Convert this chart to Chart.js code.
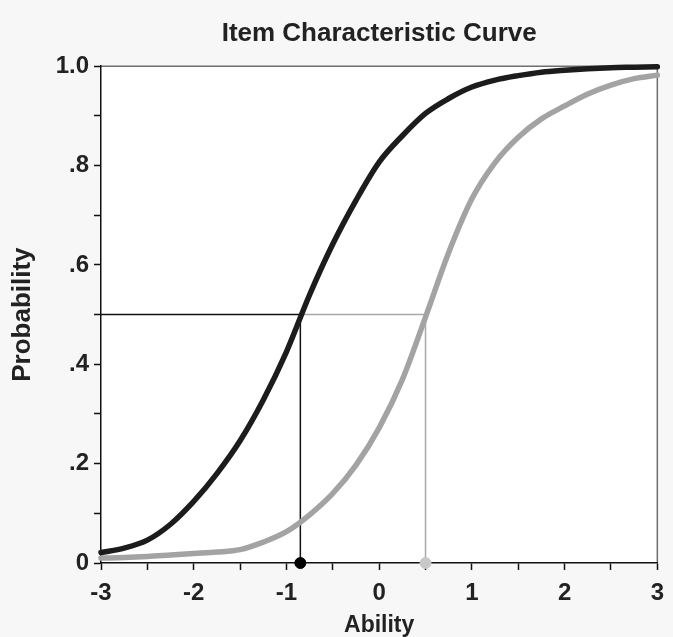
<!DOCTYPE html>
<html>
<head>
<meta charset="utf-8">
<script src="https://cdn.jsdelivr.net/npm/chart.js@4"></script>
<style>
  html, body { margin: 0; padding: 0; background: #f7f7f7; }
  #wrap { width: 673px; height: 637px; }
</style>
</head>
<body>
<div id="wrap"><canvas id="iccChart" width="673" height="637"></canvas></div>
<script>
// values
const abilityPoints = [-3, -2.75, -2.5, -2.25, -2, -1.75, -1.5, -1.25, -1, -0.75, -0.5, -0.25, 0, 0.25, 0.5, 0.75, 1, 1.25, 1.5, 1.75, 2, 2.25, 2.5, 2.75, 3];
const easyItem = [0.021, 0.03, 0.046, 0.078, 0.124, 0.18, 0.246, 0.328, 0.425, 0.54, 0.642, 0.73, 0.807, 0.86, 0.905, 0.935, 0.958, 0.972, 0.981, 0.988, 0.992, 0.995, 0.997, 0.998, 0.999];
const hardItem = [0.01, 0.011, 0.013, 0.016, 0.019, 0.022, 0.027, 0.042, 0.063, 0.097, 0.14, 0.197, 0.272, 0.369, 0.495, 0.625, 0.733, 0.806, 0.857, 0.894, 0.92, 0.944, 0.962, 0.975, 0.982];

// difficulty (ability where p = .5)
const difficulties = [-0.85, 0.5];
const halfProb = 0.5;

const xTickValues = [-3, -2, -1, 0, 1, 2, 3];
const xTickLabels = ['-3', '-2', '-1', '0', '1', '2', '3'];
const yTickValues = [0, 0.2, 0.4, 0.6, 0.8, 1.0];
const yTickLabels = ['0', '.2', '.4', '.6', '.8', '1.0'];

const fontFamily = "'Liberation Sans', Arial, sans-serif";

function pickLabel(value, values, labels) {
    for (let i = 0; i < values.length; i++) {
        if (Math.abs(values[i] - value) < 1e-6) return labels[i];
    }
    return '';
}

const plotBackground = {
    id: 'plotBackground',
    beforeDraw(chart) {
        const {ctx, chartArea} = chart;
        ctx.save();
        ctx.fillStyle = '#ffffff';
        ctx.fillRect(chartArea.left, chartArea.top, chartArea.right - chartArea.left, chartArea.bottom - chartArea.top);
        // top and right frame
        ctx.strokeStyle = '#6e6e6e';
        ctx.lineWidth = 1.5;
        ctx.beginPath();
        ctx.moveTo(chartArea.left, chartArea.top);
        ctx.lineTo(chartArea.right, chartArea.top);
        ctx.lineTo(chartArea.right, chartArea.bottom);
        ctx.stroke();
        ctx.restore();
    }
};

const iccCtx = document.getElementById('iccChart').getContext('2d');

new Chart(iccCtx, {
    type: 'line',
    data: {
        datasets: [
            {
                label: 'Easy item',
                data: abilityPoints.map((a, i) => ({x: a, y: easyItem[i]})),
                borderColor: '#1c1c1c',
                borderWidth: 5.5,
                borderCapStyle: 'round',
                cubicInterpolationMode: 'monotone',
                pointRadius: 0,
                order: 1
            },
            {
                label: 'Hard item',
                data: abilityPoints.map((a, i) => ({x: a, y: hardItem[i]})),
                borderColor: '#a3a3a3',
                borderWidth: 5.5,
                borderCapStyle: 'round',
                cubicInterpolationMode: 'monotone',
                pointRadius: 0,
                order: 2
            },
            {
                label: 'Easy drop',
                data: [{x: -3, y: halfProb}, {x: difficulties[0], y: halfProb}, {x: difficulties[0], y: 0}],
                borderColor: '#111111',
                borderWidth: 1.5,
                pointRadius: 0,
                tension: 0,
                order: 3
            },
            {
                label: 'Hard drop',
                data: [{x: difficulties[0], y: halfProb}, {x: difficulties[1], y: halfProb}, {x: difficulties[1], y: 0}],
                borderColor: '#a8a8a8',
                borderWidth: 1.5,
                pointRadius: 0,
                tension: 0,
                order: 4
            },
            {
                label: 'Difficulty',
                type: 'scatter',
                data: difficulties.map(d => ({x: d, y: 0})),
                pointBackgroundColor: ['#000000', '#c8c8c8'],
                pointBorderColor: ['#000000', '#c8c8c8'],
                pointRadius: 5.5,
                order: 0
            }
        ]
    },
    options: {
        responsive: false,
        animation: false,
        clip: false,
        layout: {
            padding: {left: 0, right: 15, top: 0, bottom: 0}
        },
        plugins: {
            legend: {display: false},
            tooltip: {enabled: false},
            title: {
                display: true,
                fullSize: false,
                text: 'Item Characteristic Curve',
                color: '#222222',
                font: {family: fontFamily, size: 26, weight: 'bold', lineHeight: 1.2},
                padding: {top: 18, bottom: 17}
            }
        },
        scales: {
            x: {
                type: 'linear',
                min: -3,
                max: 3,
                afterFit: (scale) => { scale.height = 74; },
                ticks: {
                    stepSize: 0.5,
                    autoSkip: false,
                    maxRotation: 0,
                    padding: 9,
                    color: '#222222',
                    font: {family: fontFamily, size: 24, weight: 'bold'},
                    callback: (value) => pickLabel(value, xTickValues, xTickLabels)
                },
                grid: {
                    drawOnChartArea: false,
                    drawTicks: true,
                    tickLength: 7,
                    tickWidth: 1.5,
                    tickColor: '#111111'
                },
                border: {display: true, color: '#111111', width: 1.5},
                title: {
                    display: true,
                    text: 'Ability',
                    color: '#222222',
                    font: {family: fontFamily, size: 23, weight: 'bold', lineHeight: 1},
                    padding: {top: 0, bottom: 0}
                }
            },
            y: {
                type: 'linear',
                min: 0,
                max: 1,
                afterFit: (scale) => { scale.width = 101; },
                ticks: {
                    stepSize: 0.1,
                    autoSkip: false,
                    padding: 5,
                    color: '#222222',
                    font: {family: fontFamily, size: 24, weight: 'bold'},
                    callback: (value) => pickLabel(value, yTickValues, yTickLabels)
                },
                grid: {
                    drawOnChartArea: false,
                    drawTicks: true,
                    tickLength: 7,
                    tickWidth: 1.5,
                    tickColor: '#111111'
                },
                border: {display: true, color: '#111111', width: 1.5},
                title: {
                    display: true,
                    text: 'Probability',
                    color: '#222222',
                    font: {family: fontFamily, size: 26, weight: 'bold', lineHeight: 1},
                    padding: {top: 10, bottom: 0}
                }
            }
        }
    },
    plugins: [plotBackground]
});
</script>
</body>
</html>
